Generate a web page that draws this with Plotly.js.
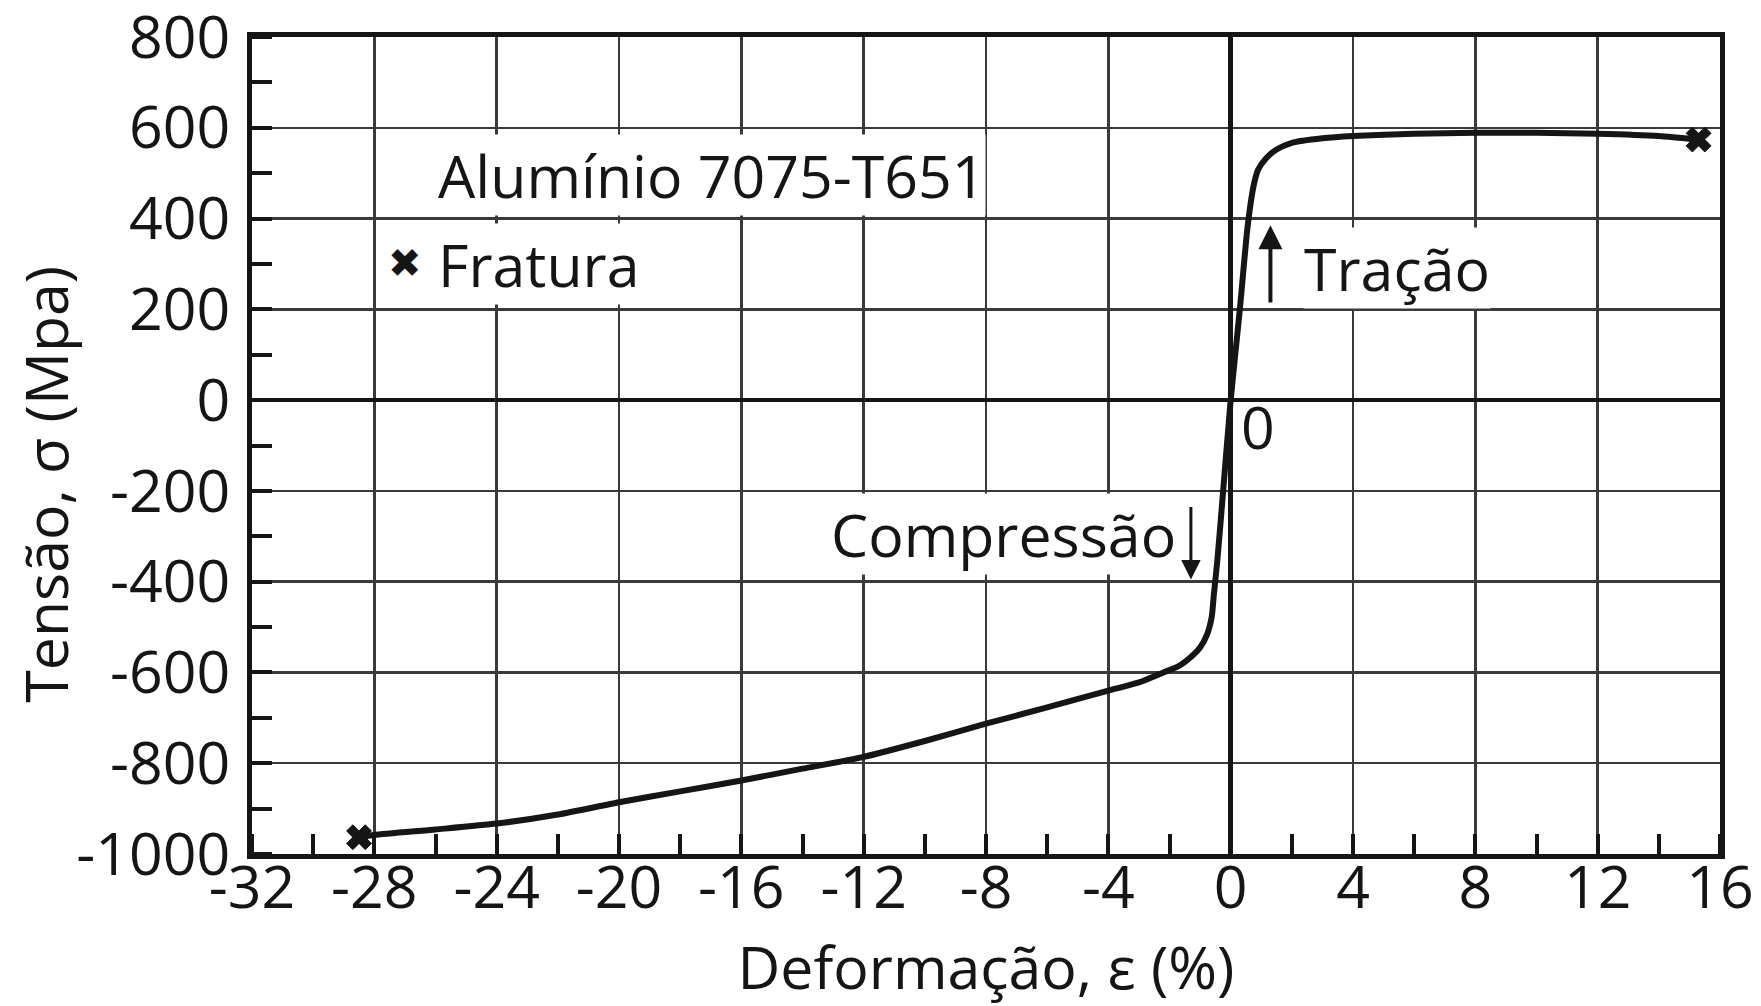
<!DOCTYPE html>
<html>
<head>
<meta charset="utf-8">
<script src="https://cdn.plot.ly/plotly-3.0.1.min.js"></script>
<style>html,body{margin:0;padding:0;background:#fff;}#chart{width:1761px;height:1006px;}</style>
</head>
<body>
<div id="chart"></div>
<script>
// Stress-strain curve, Aluminium 7075-T651 (strain in %, stress in MPa)
const strain = [-28.5, -28, -26, -24, -22, -20, -18, -16, -14, -12, -10, -8, -6, -4, -3, -2.2, -1.7, -1.32, -1.0, -0.77, -0.62, -0.55, -0.44, -0.3, 0, 0.3, 0.55, 0.75, 0.9, 1.16, 1.5, 2, 3, 4, 6, 8, 10, 12, 14, 15.3];
const stress = [-963, -958, -946, -933, -913, -886, -862, -838, -812, -786, -751, -713, -677, -640, -622, -600, -586, -567, -545, -516, -478, -429, -356, -245, 0, 200, 380, 472, 508, 533, 552, 567, 577, 582, 587, 589, 589, 587, 582, 574];
// Fracture points
const fractureStrain = [-28.5, 15.3];
const fractureStress = [-963, 574];
// Axis ticks
const xTicks = [-32, -28, -24, -20, -16, -12, -8, -4, 0, 4, 8, 12, 16];
const xTickText = ['-32', '-28', '-24', '-20', '-16', '-12', '-8', '-4', '0', '4', '8', '12', '16'];
const yTicks = [-1000, -800, -600, -400, -200, 0, 200, 400, 600, 800];
const yTickText = ['-1000', '-800', '-600', '-400', '-200', '0', '200', '400', '600', '800'];

const FONT = '"Open Sans", "Noto Sans", sans-serif';
const INK = '#151515';
const FS = 59;

const traces = [
  {
    x: strain, y: stress, type: 'scatter', mode: 'lines',
    line: {color: INK, width: 6, shape: 'spline', smoothing: 0.6},
    hoverinfo: 'skip', showlegend: false
  },
  {
    x: fractureStrain, y: fractureStress, type: 'scatter', mode: 'markers',
    marker: {symbol: 'x', size: 22, color: INK, line: {width: 1, color: INK}},
    name: 'Fratura', showlegend: false
  }
];

const layout = {
  width: 1761, height: 1006,
  paper_bgcolor: '#ffffff', plot_bgcolor: '#ffffff',
  margin: {l: 252, r: 41, t: 37, b: 152},
  font: {family: FONT, color: INK, size: FS},
  showlegend: false,
  xaxis: {
    range: [-32, 16], tickmode: 'array', tickvals: xTicks, ticktext: xTickText,
    showgrid: true, gridcolor: '#3a3a3a', gridwidth: 2.5,
    zeroline: true, zerolinecolor: INK, zerolinewidth: 5,
    showline: true, linecolor: INK, linewidth: 5, mirror: true,
    ticks: '', ticklabelstandoff: -22, ticklabeloverflow: 'allow',
    tickfont: {family: FONT, size: FS, color: INK},
    minor: {tickmode: 'linear', tick0: -32, dtick: 2, ticks: 'inside', ticklen: 20, tickwidth: 4, tickcolor: INK, showgrid: false},
    title: {text: 'Deformação, ε (%)', font: {family: FONT, size: FS, color: INK}, standoff: 62},
    fixedrange: true
  },
  yaxis: {
    range: [-1000, 800], tickmode: 'array', tickvals: yTicks, ticktext: yTickText,
    showgrid: true, gridcolor: '#3a3a3a', gridwidth: 2.5,
    zeroline: true, zerolinecolor: INK, zerolinewidth: 4,
    showline: true, linecolor: INK, linewidth: 5, mirror: true,
    ticks: '', ticklabelstandoff: 5, ticklabeloverflow: 'allow',
    tickfont: {family: FONT, size: FS, color: INK},
    minor: {tickmode: 'linear', tick0: -1000, dtick: 100, ticks: 'inside', ticklen: 20, tickwidth: 4, tickcolor: INK, showgrid: false},
    title: {text: '', font: {family: FONT, size: FS, color: INK}, standoff: 0},
    fixedrange: true
  },
  annotations: [
    {x: -0.141, y: 0.452, xref: 'paper', yref: 'paper', xanchor: 'center', yanchor: 'middle', showarrow: false,
     textangle: -90, text: 'Tensão, σ (Mpa)', font: {family: FONT, size: FS, color: INK}},
    {x: -25.95, y: 497, xref: 'x', yref: 'y', xanchor: 'left', yanchor: 'middle', showarrow: false,
     text: 'Alumínio 7075-T651', font: {family: FONT, size: FS, color: INK}, bgcolor: '#ffffff', borderpad: 0},
    {x: -25.95, y: 300, xref: 'x', yref: 'y', xanchor: 'left', yanchor: 'middle', showarrow: false,
     text: 'Fratura', font: {family: FONT, size: FS, color: INK}, bgcolor: '#ffffff', borderpad: 0},
    {x: -27.0, y: 302, xref: 'x', yref: 'y', xanchor: 'center', yanchor: 'middle', showarrow: false,
     text: '✖', font: {family: '"DejaVu Sans", sans-serif', size: 40, color: INK}},
    {x: 2.35, y: 290, xref: 'x', yref: 'y', xanchor: 'left', yanchor: 'middle', showarrow: false,
     text: 'Tração', font: {family: FONT, size: FS, color: INK}, bgcolor: '#ffffff', borderpad: 0},
    {x: 1.3, y: 385, ax: 1.3, ay: 212, xref: 'x', yref: 'y', axref: 'x', ayref: 'y',
     showarrow: true, arrowhead: 2, arrowsize: 1.2, arrowwidth: 4, arrowcolor: INK, text: ''},
    {x: -1.75, y: -295, xref: 'x', yref: 'y', xanchor: 'right', yanchor: 'middle', showarrow: false,
     text: 'Compressão', font: {family: FONT, size: FS, color: INK}, bgcolor: '#ffffff', borderpad: 0},
    {x: -1.3, y: -395, ax: -1.3, ay: -232, xref: 'x', yref: 'y', axref: 'x', ayref: 'y',
     showarrow: true, arrowhead: 2, arrowsize: 1.3, arrowwidth: 3, arrowcolor: INK, text: ''},
    {x: 0.9, y: -58, xref: 'x', yref: 'y', xanchor: 'center', yanchor: 'middle', showarrow: false,
     text: '0', font: {family: FONT, size: FS, color: INK}}
  ]
};

Plotly.newPlot('chart', traces, layout, {staticPlot: true, displayModeBar: false});
</script>
</body>
</html>
